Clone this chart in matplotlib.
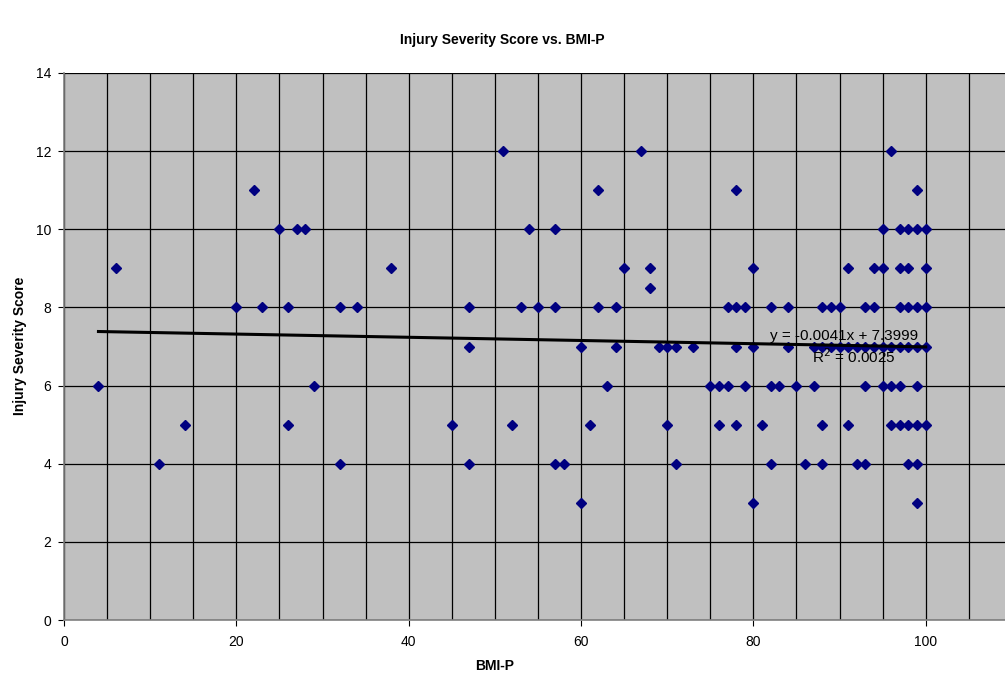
import numpy as np
import matplotlib
matplotlib.use('Agg')
import matplotlib.pyplot as plt
from matplotlib.ticker import MultipleLocator

# BMI-P values, grouped by injury severity score
iss_levels = [12, 11, 10, 9, 8.5, 8, 7, 6, 5, 4, 3]
bmi_12 = [51, 67, 96]
bmi_11 = [22, 62, 78, 99]
bmi_10 = [25, 27, 28, 54, 57, 95, 97, 98, 99, 100]
bmi_9 = [6, 38, 65, 68, 80, 91, 94, 95, 97, 98, 100]
bmi_8_5 = [68]
bmi_8 = [20, 23, 26, 32, 34, 47, 53, 55, 57, 62, 64, 77, 78, 79, 82, 84, 88, 89, 90, 93, 94, 97, 98, 99, 100]
bmi_7 = [47, 60, 64, 69, 70, 71, 73, 78, 80, 84, 87, 88, 89, 90, 91, 92, 93, 94, 95, 96, 97, 98, 99, 100]
bmi_6 = [4, 29, 63, 75, 76, 77, 79, 82, 83, 85, 87, 93, 95, 96, 97, 99]
bmi_5 = [14, 26, 45, 52, 61, 70, 76, 78, 81, 88, 91, 96, 97, 98, 99, 100]
bmi_4 = [11, 32, 47, 57, 58, 71, 82, 86, 88, 92, 93, 98, 99]
bmi_3 = [60, 80, 99]

# trendline from the chart label
slope = -0.0041
intercept = 7.3999
r2 = 0.0025
trend_x = [4, 100]

groups = [bmi_12, bmi_11, bmi_10, bmi_9, bmi_8_5, bmi_8, bmi_7, bmi_6, bmi_5, bmi_4, bmi_3]
bmi = np.concatenate([np.array(g, float) for g in groups])
iss = np.concatenate([np.full(len(g), lv, float) for g, lv in zip(groups, iss_levels)])

plt.rcParams['font.family'] = ['Liberation Sans', 'DejaVu Sans']

fig = plt.figure(figsize=(10.05, 6.77), dpi=100)
ax = fig.add_axes([64 / 1005, 1 - 620 / 677, 1 - 64 / 1005, (620 - 73) / 677])
ax.set_facecolor('#c0c0c0')

ax.set_xlim(0, 109.2)
ax.set_ylim(0, 14)
ax.xaxis.set_major_locator(MultipleLocator(20))
ax.xaxis.set_minor_locator(MultipleLocator(5))
ax.yaxis.set_major_locator(MultipleLocator(2))
ax.grid(True, which='both', axis='x', color='black', lw=0.9)
ax.grid(True, which='major', axis='y', color='black', lw=0.9)
ax.set_axisbelow(True)
ax.tick_params(axis='both', which='major', direction='out', length=4, color='black',
               labelsize=10, pad=7)
ax.tick_params(axis='y', which='major', pad=5)
ax.tick_params(axis='x', which='minor', length=0)
for s in ['top', 'right']:
    ax.spines[s].set_visible(False)
for s in ['left', 'bottom']:
    ax.spines[s].set_color('#808080')
    ax.spines[s].set_linewidth(1.2)

# points
ax.plot(bmi, iss, linestyle='none', marker='D', ms=5, color='#000080', zorder=3)

# linear trendline
tx = np.array(trend_x, float)
ax.plot(tx, slope * tx + intercept, color='black', lw=2.2, zorder=4)
ax.text(90.5, 7.27, 'y = -0.0041x + 7.3999', fontsize=11, ha='center', va='center', zorder=5)
ax.text(91.7, 6.74, 'R$^2$ = 0.0025', fontsize=11, ha='center', va='center', zorder=5)

fig.text(0.5, 1 - 40 / 677, 'Injury Severity Score vs. BMI-P', ha='center', va='center',
         fontsize=10, fontweight='bold')
fig.text(495 / 1005, 1 - 666 / 677, 'BMI-P', ha='center', va='center',
         fontsize=10, fontweight='bold')
fig.text(20 / 1005, 1 - 346 / 677, 'Injury Severity Score', ha='center', va='center',
         rotation=90, fontsize=10, fontweight='bold')

fig.savefig('out.png', dpi=100)
